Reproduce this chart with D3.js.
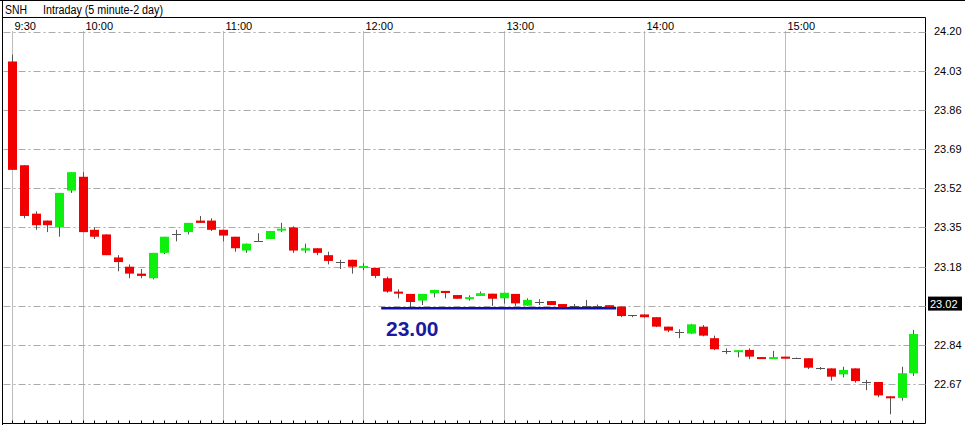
<!DOCTYPE html>
<html><head><meta charset="utf-8">
<script src="https://cdn.jsdelivr.net/npm/d3@7"></script>
<style>html,body{margin:0;padding:0;background:#fff;}svg{display:block;}</style>
</head><body>
<script>
const symbol = "SNH";
const title = "Intraday (5 minute-2 day)";
const times = ["9:30","9:35","9:40","9:45","9:50","9:55","10:00","10:05","10:10","10:15","10:20","10:25","10:30","10:35","10:40","10:45","10:50","10:55",
"11:00","11:05","11:10","11:15","11:20","11:25","11:30","11:35","11:40","11:45","11:50","11:55",
"12:00","12:05","12:10","12:15","12:20","12:25","12:30","12:35","12:40","12:45","12:50","12:55",
"13:00","13:05","13:10","13:15","13:20","13:25","13:30","13:35","13:40","13:45","13:50","13:55",
"14:00","14:05","14:10","14:15","14:20","14:25","14:30","14:35","14:40","14:45","14:50","14:55",
"15:00","15:05","15:10","15:15","15:20","15:25","15:30","15:35","15:40","15:45","15:50","15:55"];
const openV  = [24.07,23.62,23.41,23.38,23.35,23.51,23.57,23.34,23.32,23.22,23.18,23.15,23.13,23.24,23.32,23.33,23.38,23.38,23.34,23.31,23.25,23.29,23.30,23.34,23.35,23.25,23.26,23.23,23.20,23.21,23.175,23.175,23.13,23.072,23.062,23.033,23.065,23.075,23.057,23.043,23.053,23.063,23.043,23.062,23.011,23.028,23.031,23.018,23.011,23.011,23.010,23.013,23.007,22.969,22.973,22.961,22.920,22.898,22.890,22.920,22.870,22.815,22.810,22.819,22.788,22.781,22.790,22.783,22.783,22.739,22.739,22.713,22.739,22.680,22.680,22.618,22.611,22.718];
const highV  = [24.10,23.62,23.42,23.38,23.50,23.59,23.59,23.35,23.32,23.23,23.19,23.17,23.24,23.31,23.34,23.37,23.40,23.39,23.34,23.31,23.28,23.325,23.335,23.37,23.355,23.28,23.26,23.245,23.21,23.21,23.195,23.175,23.137,23.082,23.062,23.062,23.08,23.075,23.057,23.056,23.072,23.063,23.067,23.062,23.043,23.039,23.031,23.018,23.018,23.036,23.016,23.013,23.007,22.969,22.973,22.961,22.920,22.909,22.932,22.927,22.881,22.826,22.818,22.826,22.788,22.815,22.790,22.786,22.783,22.745,22.739,22.746,22.739,22.689,22.680,22.618,22.746,22.906];
const lowV   = [23.60,23.39,23.34,23.33,23.31,23.50,23.33,23.30,23.23,23.16,23.13,23.13,23.125,23.235,23.29,23.32,23.37,23.335,23.29,23.245,23.24,23.29,23.30,23.33,23.24,23.24,23.23,23.19,23.17,23.15,23.165,23.13,23.067,23.043,23.004,23.014,23.047,23.043,23.041,23.033,23.053,23.01,23.02,23.01,23.011,23.014,23.014,23.004,23.000,23.004,23.004,23.004,22.961,22.961,22.958,22.918,22.896,22.870,22.888,22.878,22.818,22.801,22.787,22.779,22.781,22.781,22.781,22.780,22.736,22.733,22.686,22.700,22.677,22.645,22.614,22.540,22.599,22.706];
const closeV = [23.60,23.40,23.36,23.36,23.50,23.59,23.33,23.31,23.23,23.20,23.15,23.14,23.24,23.31,23.32,23.37,23.37,23.34,23.315,23.26,23.28,23.29,23.335,23.345,23.25,23.26,23.24,23.205,23.20,23.18,23.183,23.14,23.072,23.063,23.027,23.062,23.079,23.066,23.041,23.048,23.065,23.041,23.067,23.021,23.036,23.028,23.014,23.004,23.011,23.011,23.010,23.004,22.966,22.969,22.961,22.920,22.903,22.898,22.930,22.881,22.822,22.815,22.818,22.790,22.781,22.788,22.781,22.783,22.742,22.739,22.703,22.732,22.684,22.680,22.622,22.611,22.718,22.888];
const hourLabels = ["9:30","10:00","11:00","12:00","13:00","14:00","15:00"];
const gridValues = [24.20,24.03,23.86,23.69,23.52,23.35,23.18,23.01,22.84,22.67];
const axisLabels = ["24.20","24.03","23.86","23.69","23.52","23.35","23.18","","22.84","22.67"];
const lastPrice = 23.02;
const lineValue = 23.00;
const lineFrom = "12:10", lineTo = "13:50";
const lineLabel = "23.00";

const W = 965, H = 425;
const svg = d3.select("body").append("svg").attr("width", W).attr("height", H)
  .style("font-family", "'Liberation Sans', Arial, sans-serif");
svg.append("rect").attr("width", W).attr("height", H).attr("fill", "#fff");

const plot = {left: 2.5, right: 925.5, top: 31, bottom: 423.5};
const x = d3.scalePoint().domain(times).range([12.3, 913.2]);
const y = d3.scaleLinear().domain([22.67, 24.20]).range([384.3, 31.5]);
const bodyW = 9;

// frame
const frame = svg.append("g").attr("stroke", "#000").attr("stroke-width", 1);
frame.append("line").attr("x1", 0).attr("x2", W).attr("y1", 0.5).attr("y2", 0.5);
frame.append("line").attr("x1", plot.left).attr("x2", plot.left).attr("y1", 0).attr("y2", H);
frame.append("line").attr("x1", plot.left).attr("x2", plot.right).attr("y1", 17.5).attr("y2", 17.5);
frame.append("line").attr("x1", plot.right).attr("x2", plot.right).attr("y1", 17.5).attr("y2", plot.bottom);
frame.append("line").attr("x1", plot.left).attr("x2", plot.right).attr("y1", plot.bottom).attr("y2", plot.bottom);

// header text
svg.append("text").attr("x", 5).attr("y", 13.5).attr("font-size", 12)
  .attr("textLength", 22).attr("lengthAdjust", "spacingAndGlyphs").text(symbol);
svg.append("text").attr("x", 43).attr("y", 13.5).attr("font-size", 12)
  .attr("textLength", 120).attr("lengthAdjust", "spacingAndGlyphs").text(title);

// vertical grid + time labels
const vg = svg.append("g");
hourLabels.forEach(t => {
  const xx = Math.round(x(t)) + 0.5;
  vg.append("line").attr("x1", xx).attr("x2", xx).attr("y1", plot.top).attr("y2", plot.bottom)
    .attr("stroke", "#bdbdbd").attr("stroke-width", 1);
  vg.append("text").attr("x", xx + 2).attr("y", 30).attr("font-size", 11).text(t);
});

// horizontal grid
gridValues.forEach(v => {
  const yy = Math.round(y(v)) + 0.5;
  svg.append("line").attr("x1", plot.left + 1).attr("x2", plot.right).attr("y1", yy).attr("y2", yy)
    .attr("stroke", "#aaa").attr("stroke-dasharray", "7,3,2,3");
});

// x axis ticks
const tg = svg.append("g").attr("stroke", "#000");
times.forEach(t => {
  const xx = Math.round(x(t)) + 0.5;
  tg.append("line").attr("x1", xx).attr("x2", xx).attr("y1", plot.bottom - 3).attr("y2", plot.bottom);
});

// right axis labels
axisLabels.forEach((lab, i) => {
  if (!lab) return;
  svg.append("text").attr("x", 934).attr("y", y(gridValues[i])).attr("dy", "0.36em")
    .attr("font-size", 11).text(lab);
});
// last price marker
const ly = y(lastPrice);
svg.append("rect").attr("x", 928).attr("y", ly - 7).attr("width", 34).attr("height", 14).attr("fill", "#000");
svg.append("text").attr("x", 930).attr("y", ly).attr("dy", "0.36em").attr("font-size", 11)
  .attr("fill", "#fff").text(d3.format(".2f")(lastPrice));

// candles
const data = times.map((t, i) => ({t, o: openV[i], h: highV[i], l: lowV[i], c: closeV[i]}));
const cg = svg.append("g");
data.forEach(d => {
  const cx = Math.round(x(d.t)) + 0.5;
  cg.append("line").attr("x1", cx).attr("x2", cx).attr("y1", y(d.h)).attr("y2", y(d.l))
    .attr("stroke", "#555").attr("stroke-width", 1);
  if (d.o === d.c) {
    const yy = Math.round(y(d.o)) + 0.5;
    cg.append("line").attr("x1", cx - bodyW / 2).attr("x2", cx + bodyW / 2).attr("y1", yy).attr("y2", yy)
      .attr("stroke", "#555");
  } else {
    const top = y(Math.max(d.o, d.c)), bot = y(Math.min(d.o, d.c));
    const h = Math.max(2, bot - top);
    cg.append("rect").attr("x", cx - bodyW / 2).attr("y", top).attr("width", bodyW).attr("height", h)
      .attr("fill", d.c > d.o ? "#0df00d" : "#f00000");
  }
});

// annotation line
const ay = y(lineValue);
svg.append("line").attr("x1", x(lineFrom) - bodyW / 2 - 1).attr("x2", x(lineTo) - bodyW / 2)
  .attr("y1", ay).attr("y2", ay).attr("stroke", "#1010a8").attr("stroke-width", 2.5);
svg.append("text").attr("x", 386).attr("y", ay + 28).attr("font-size", 21).attr("font-weight", "bold")
  .attr("fill", "#1a1aa0").text(lineLabel);
</script>
</body></html>
